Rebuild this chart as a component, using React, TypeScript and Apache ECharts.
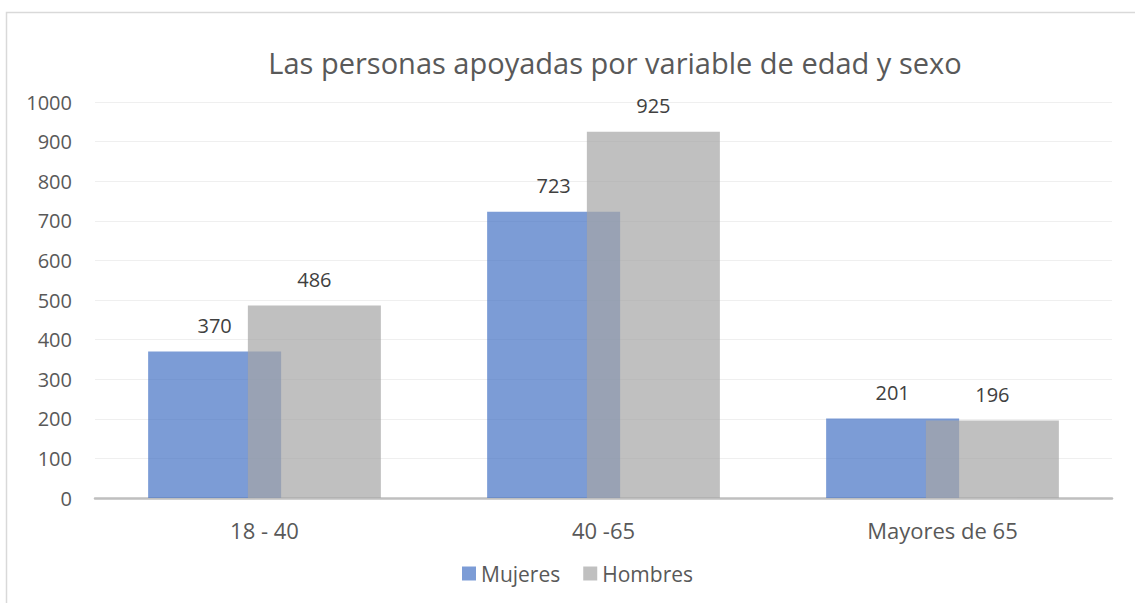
import React, { useEffect, useRef } from "react";
import * as echarts from "echarts";

const categories = ["18 - 40", "40 -65", "Mayores de 65"];
const mujeres = [370, 723, 201];
const hombres = [486, 925, 196];
const titleText = "Las personas apoyadas por variable de edad y sexo";

export default function App() {
  const ref = useRef<HTMLDivElement>(null);
  useEffect(() => {
    if (!ref.current) return;
    const chart = echarts.init(ref.current, undefined, { renderer: "svg" });
    const font = "'Open Sans', 'Noto Sans', sans-serif";
    chart.setOption({
      animation: false,
      textStyle: { fontFamily: font },
      graphic: [
        {
          type: "rect",
          shape: { x: 6.5, y: 12.5, width: 1300, height: 800 },
          style: { fill: "none", stroke: "#d9d9d9", lineWidth: 1.5 },
          silent: true,
        },
        {
          type: "text",
          x: 615,
          y: 62,
          style: {
            text: titleText,
            fontSize: 29,
            fontFamily: font,
            fill: "#595959",
            align: "center",
            verticalAlign: "middle",
          },
        },
      ],
      legend: {
        top: 558,
        left: 457,
        itemWidth: 14,
        itemHeight: 14,
        itemGap: 23,
        icon: "rect",
        textStyle: { fontSize: 21, color: "#595959", fontFamily: font },
        data: ["Mujeres", "Hombres"],
      },
      grid: { left: 95, right: 23, top: 102, bottom: 105, containLabel: false },
      xAxis: {
        type: "category",
        data: categories,
        axisTick: { show: false },
        axisLine: { lineStyle: { color: "#bfbfbf", width: 2.5 } },
        axisLabel: { fontSize: 22, color: "#595959", margin: 21, fontFamily: font },
      },
      yAxis: {
        type: "value",
        min: 0,
        max: 1000,
        interval: 100,
        axisLine: { show: false },
        axisTick: { show: false },
        splitLine: { lineStyle: { color: "#efefef", width: 1 } },
        axisLabel: {
          fontSize: 20,
          color: "#595959",
          margin: 23,
          fontFamily: font,
          formatter: (v: number) => String(v),
        },
      },
      series: [
        {
          name: "Mujeres",
          type: "bar",
          data: mujeres,
          barWidth: 133,
          barGap: "-25%",
          itemStyle: { color: "rgba(68,114,196,0.7)" },
          label: { show: true, position: "top", distance: 16, fontSize: 20, color: "#404040", fontFamily: font },
        },
        {
          name: "Hombres",
          type: "bar",
          data: hombres,
          barWidth: 133,
          barGap: "-25%",
          itemStyle: { color: "rgba(165,165,165,0.7)" },
          label: { show: true, position: "top", distance: 16, fontSize: 20, color: "#404040", fontFamily: font },
        },
      ],
    });
    return () => chart.dispose();
  }, []);
  return (
    <div
      ref={ref}
      style={{ position: "fixed", left: 0, top: 0, width: 1135, height: 603, background: "#fff" }}
    />
  );
}
